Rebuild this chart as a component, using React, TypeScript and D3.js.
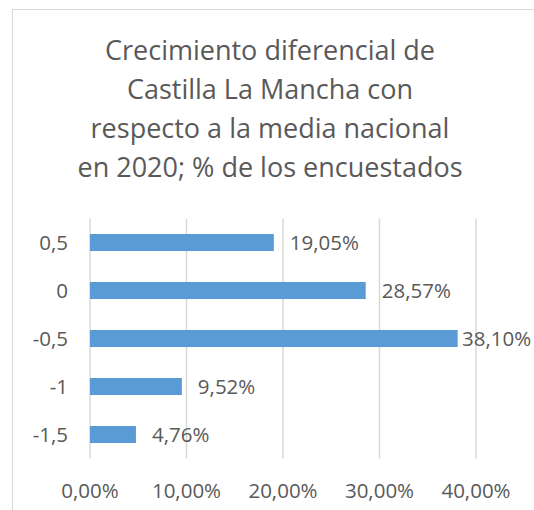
import React from "react";
import * as d3 from "d3";

const categories = ["0,5", "0", "-0,5", "-1", "-1,5"];
const values = [19.05, 28.57, 38.1, 9.52, 4.76];
const xTicks = [0, 10, 20, 30, 40];
const titleLines = [
  "Crecimiento diferencial de",
  "Castilla La Mancha con",
  "respecto a la media nacional",
  "en 2020; % de los encuestados",
];

const W = 534;
const H = 510;
const margin = { left: 90, right: 58, top: 218.5, bottom: 51.5 };
const font = "'Open Sans', sans-serif";
const textColor = "#595959";

const fmt = (v: number) => v.toFixed(2).replace(".", ",") + "%";

export default function App() {
  const innerW = W - margin.left - margin.right;
  const innerH = H - margin.top - margin.bottom;

  const x = d3.scaleLinear().domain([0, 40]).range([0, innerW]);
  const y = d3.scaleBand().domain(categories).range([0, innerH]).paddingInner(0.645).paddingOuter(0.3225);

  return (
    <div style={{ position: "absolute", left: 0, top: 0 }}>
      <svg width={W} height={H} style={{ display: "block", background: "#fff" }}>
        <rect x={12.5} y={9.5} width={W + 10} height={H + 10} fill="#fff" stroke="#d9d9d9" />
        <g fill={textColor} fontFamily={font} fontSize={27} textAnchor="middle">
          {titleLines.map((t, i) => (
            <text key={i} x={270} y={60 + i * 39}>{t}</text>
          ))}
        </g>
        <g transform={`translate(${margin.left},${margin.top})`}>
          {xTicks.map((t) => (
            <line key={t} x1={x(t)} x2={x(t)} y1={0} y2={innerH} stroke="#d9d9d9" strokeWidth={1.5} />
          ))}
          {categories.map((c, i) => (
            <g key={c}>
              <rect
                x={x(0)}
                y={y(c)}
                width={x(values[i]) - x(0)}
                height={y.bandwidth()}
                fill="#5b9bd5"
              />
              <text
                x={Math.min(x(values[i]) + 16, W - margin.left - 72)}
                y={(y(c) ?? 0) + y.bandwidth() / 2}
                dy="0.35em"
                fill={textColor}
                fontFamily={font}
                fontSize={20.5}
              >
                {fmt(values[i])}
              </text>
              <text
                x={-22}
                y={(y(c) ?? 0) + y.bandwidth() / 2}
                dy="0.35em"
                textAnchor="end"
                fill={textColor}
                fontFamily={font}
                fontSize={20.5}
              >
                {c}
              </text>
            </g>
          ))}
          {xTicks.map((t) => (
            <text
              key={t}
              x={x(t)}
              y={innerH + 32}
              dy="0.35em"
              textAnchor="middle"
              fill={textColor}
              fontFamily={font}
              fontSize={20.5}
            >
              {fmt(t)}
            </text>
          ))}
        </g>
      </svg>
    </div>
  );
}
